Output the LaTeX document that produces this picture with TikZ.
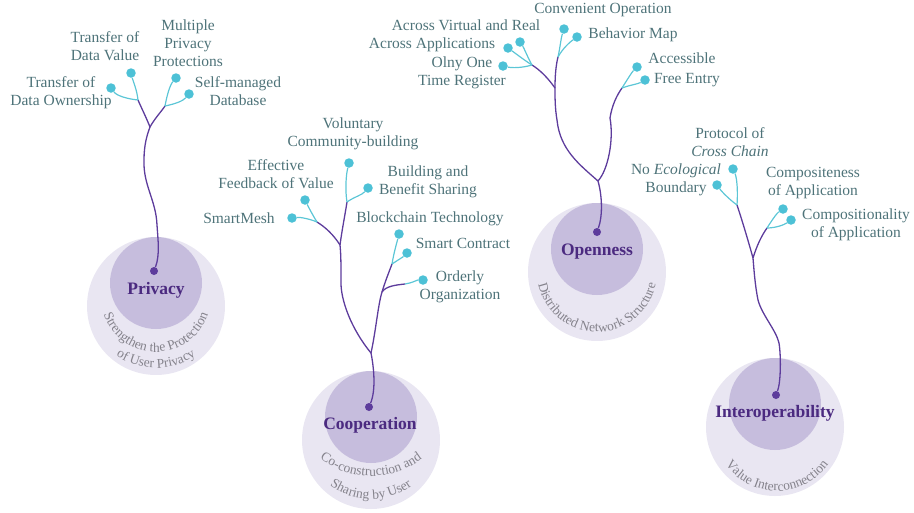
\documentclass[tikz,border=0pt]{standalone}
\usepackage{fontspec}
\setmainfont{Liberation Serif}
\usetikzlibrary{decorations.text}
\definecolor{outc}{HTML}{E9E6F2}
\definecolor{inc}{HTML}{C6BDDD}
\definecolor{stemc}{HTML}{5D3C9C}
\definecolor{cyanc}{HTML}{5CC6D6}
\definecolor{dotc}{HTML}{4DC1D6}
\definecolor{labc}{HTML}{4E7379}
\definecolor{ttlc}{HTML}{4B2A80}
\definecolor{subc}{HTML}{85838C}
% #1 centre, #2 radius (pt), #3 text
\newcommand\arctext[3]{\begingroup\fontsize{13.5}{13.5}\selectfont
  \path[decorate, decoration={text along path, text align=center, text color=subc, text={#3}}]
    (#1) ++(180:#2pt) arc[start angle=180, end angle=360, radius=#2pt];\endgroup}
\tikzset{
  stemline/.style={draw=stemc, line width=1.3pt},
  twig/.style={draw=cyanc, line width=1.2pt},
  leaf/.style={circle, fill=dotc, inner sep=0pt, minimum size=9.5pt},
  seed/.style={circle, fill=stemc, inner sep=0pt, minimum size=8pt},
  lbl/.style={text=labc, align=center, font=\fontsize{15.5}{18}\selectfont, inner sep=0pt},
  ttl/.style={text=ttlc, font=\bfseries\fontsize{17.5}{20}\selectfont, inner sep=0pt},
  outdisk/.style={circle, fill=outc, inner sep=0pt, minimum size=138pt},
  indisk/.style={circle, fill=inc, inner sep=0pt, minimum size=92pt}
}
\begin{document}
\begin{tikzpicture}[x=1pt,y=-1pt]
\useasboundingbox (0,0) rectangle (914,512);

% ---------------- Privacy ----------------
\node[outdisk] (Pout) at (156,306) {};
\node[indisk] (Pin) at (156,283) {};
\node[ttl] (Pt) at (156,290) {Privacy};
\node[seed] (Pd) at (154,271) {};
\coordinate (Pj) at (150,127);
\coordinate (Pl) at (138,100);
\coordinate (Pr) at (165,106);
\node[leaf] (Pa) at (131,73) {};
\node[leaf] (Pb) at (111,88) {};
\node[leaf] (Pc) at (176,78) {};
\node[leaf] (Pe) at (189,94) {};
\draw[stemline] (Pd) .. controls (160,255) and (158,240) .. (157,225) .. controls (156,200) and (143,185) .. (144,160) .. controls (144,145) and (147,135) .. (Pj);
\draw[stemline] (Pj) .. controls (146,117) and (141,107) .. (Pl);
\draw[stemline] (Pj) .. controls (155,118) and (161,112) .. (Pr);
\draw[twig] (Pl) .. controls (137,90) and (133,81) .. (Pa);
\draw[twig] (Pl) .. controls (128,99) and (117,96) .. (Pb);
\draw[twig] (Pr) .. controls (167,95) and (170,85) .. (Pc);
\draw[twig] (Pr) .. controls (175,104) and (183,101) .. (Pe);
\node[lbl] (Lpa) at (105,46) {Transfer of\\Data Value};
\node[lbl] (Lpc) at (188,43) {Multiple\\Privacy\\Protections};
\node[lbl] (Lpb) at (61,93) {Transfer of\\Data Ownership};
\node[lbl] (Lpe) at (238,91) {Self-managed\\Database};
\arctext{156,297}{55}{Strengthen the Protection}
\arctext{156,297}{71}{of User Privacy}

% ---------------- Cooperation ----------------
\node[outdisk] (Cout) at (371,440) {};
\node[indisk] (Cin) at (371,417) {};
\node[ttl] (Ct) at (370,425) {Cooperation};
\node[seed] (Cd) at (369,407) {};
\coordinate (Cj) at (371,353);
\coordinate (Cl) at (340,245);
\coordinate (Cs) at (317,222);
\coordinate (Cv) at (347,202);
\coordinate (Cr) at (382,292);
\coordinate (Ck) at (392,264);
\coordinate (Co) at (405,284);
\node[leaf] (Csm) at (292,218) {};
\node[leaf] (Cef) at (305,200) {};
\node[leaf] (Cvo) at (349,163) {};
\node[leaf] (Cbu) at (368,188) {};
\node[leaf] (Cbl) at (399,234) {};
\node[leaf] (Csc) at (407,253) {};
\node[leaf] (Cor) at (423,280) {};
\draw[stemline] (Cd) .. controls (376,390) and (374,368) .. (Cj);
\draw[stemline] (Cj) .. controls (352,330) and (340,300) .. (341,280) .. controls (341,265) and (341,255) .. (Cl);
\draw[stemline] (Cj) .. controls (376,330) and (378,305) .. (Cr);
\draw[stemline] (Cr) .. controls (385,282) and (389,272) .. (Ck);
\draw[stemline] (Cr) .. controls (386,286) and (396,285) .. (Co);
\draw[stemline] (Cl) .. controls (333,234) and (325,227) .. (Cs);
\draw[stemline] (Cl) .. controls (342,230) and (345,215) .. (Cv);
\draw[twig] (Co) .. controls (412,283) and (417,280) .. (Cor);
\draw[twig] (Cs) .. controls (310,219) and (300,217) .. (Csm);
\draw[twig] (Cs) .. controls (312,214) and (308,206) .. (Cef);
\draw[twig] (Cv) .. controls (345,190) and (346,175) .. (Cvo);
\draw[twig] (Cv) .. controls (354,197) and (362,195) .. (Cbu);
\draw[twig] (Ck) .. controls (394,252) and (397,242) .. (Cbl);
\draw[twig] (Ck) .. controls (398,260) and (403,257) .. (Csc);
\node[lbl] (Lcvo) at (353,134) {Voluntary\\Community-building};
\node[lbl] (Lcef) at (276,174) {Effective\\Feedback of Value};
\node[lbl] (Lcbu) at (428,182) {Building and\\Benefit Sharing};
\node[lbl] (Lcsm) at (239,218) {SmartMesh};
\node[lbl] (Lcbl) at (430,219) {Blockchain Technology};
\node[lbl] (Lcsc) at (463,243) {Smart Contract};
\node[lbl] (Lcor) at (460,287) {Orderly\\Organization};
\arctext{371,391}{85}{Co-construction and}
\arctext{371,429}{70}{Sharing by User}

% ---------------- Openness ----------------
\node[outdisk] (Oout) at (597,272) {};
\node[indisk] (Oin) at (597,249) {};
\node[ttl] (Ot) at (597,252) {Openness};
\node[seed] (Od) at (597,232) {};
\coordinate (Oj) at (598,181);
\coordinate (Ol) at (555,88);
\coordinate (Oa) at (532,65);
\coordinate (Ob) at (558,57);
\coordinate (Or) at (622,88);
\node[leaf] (Oon) at (503,66) {};
\node[leaf] (Oap) at (508,48) {};
\node[leaf] (Ovr) at (520,42) {};
\node[leaf] (Oco) at (564,29) {};
\node[leaf] (Obm) at (577,37) {};
\node[leaf] (Oac) at (637,67) {};
\node[leaf] (Ofe) at (645,80) {};
\draw[stemline] (Od) .. controls (603,215) and (602,195) .. (Oj);
\draw[stemline] (Oj) .. controls (580,165) and (560,150) .. (557,120) .. controls (555,108) and (555,98) .. (Ol);
\draw[stemline] (Ol) .. controls (548,78) and (540,70) .. (Oa);
\draw[stemline] (Ol) .. controls (555,75) and (556,65) .. (Ob);
\draw[stemline] (Oj) .. controls (608,170) and (614,140) .. (610,118) .. controls (612,105) and (617,95) .. (Or);
\draw[twig] (Oa) .. controls (522,68) and (512,68) .. (Oon);
\draw[twig] (Oa) .. controls (524,60) and (515,53) .. (Oap);
\draw[twig] (Oa) .. controls (528,58) and (524,48) .. (Ovr);
\draw[twig] (Ob) .. controls (560,48) and (561,38) .. (Oco);
\draw[twig] (Ob) .. controls (563,48) and (570,42) .. (Obm);
\draw[twig] (Or) .. controls (627,80) and (632,72) .. (Oac);
\draw[twig] (Or) .. controls (630,85) and (638,84) .. (Ofe);
\node[lbl] (Loco) at (603,10) {Convenient Operation};
\node[lbl] (Lovr) at (466,25) {Across Virtual and Real};
\node[lbl] (Lobm) at (633,35) {Behavior Map};
\node[lbl] (Loap) at (432,45) {Across Applications};
\node[lbl] (Loon) at (462,73) {Olny One\\Time Register};
\node[lbl] (Loac) at (682,58) {Accessible};
\node[lbl] (Lofe) at (687,80) {Free Entry};
\arctext{597,272}{60}{Distributed Network Structure}

% ---------------- Interoperability ----------------
\node[outdisk] (Iout) at (775,427) {};
\node[indisk] (Iin) at (775,404) {};
\node[ttl] (It) at (775,413) {Interoperability};
\node[seed] (Id) at (776,395) {};
\coordinate (Ij) at (753,258);
\coordinate (Il) at (737,205);
\coordinate (Ir) at (767,228);
\node[leaf] (Ipr) at (733,169) {};
\node[leaf] (Ino) at (717,185) {};
\node[leaf] (Ics) at (783,209) {};
\node[leaf] (Icl) at (791,220) {};
\draw[stemline] (Id) .. controls (781,382) and (781,355) .. (779,343) .. controls (776,330) and (762,315) .. (758,300) .. controls (755,285) and (754,270) .. (Ij);
\draw[stemline] (Ij) .. controls (748,240) and (742,220) .. (Il);
\draw[stemline] (Ij) .. controls (757,245) and (762,235) .. (Ir);
\draw[twig] (Il) .. controls (738,192) and (737,178) .. (Ipr);
\draw[twig] (Il) .. controls (730,200) and (722,192) .. (Ino);
\draw[twig] (Ir) .. controls (772,220) and (777,213) .. (Ics);
\draw[twig] (Ir) .. controls (775,228) and (784,225) .. (Icl);
\node[lbl] (Lipr) at (730,142) {Protocol of\\\textit{Cross Chain}};
\node[lbl] (Lino) at (676,180) {No \textit{Ecological}\\Boundary};
\node[lbl] (Lics) at (813,183) {Compositeness\\of Application};
\node[lbl] (Licl) at (856,225) {Compositionality\\of Application};
\arctext{777,428}{63}{Value Interconnection}
\end{tikzpicture}
\end{document}
